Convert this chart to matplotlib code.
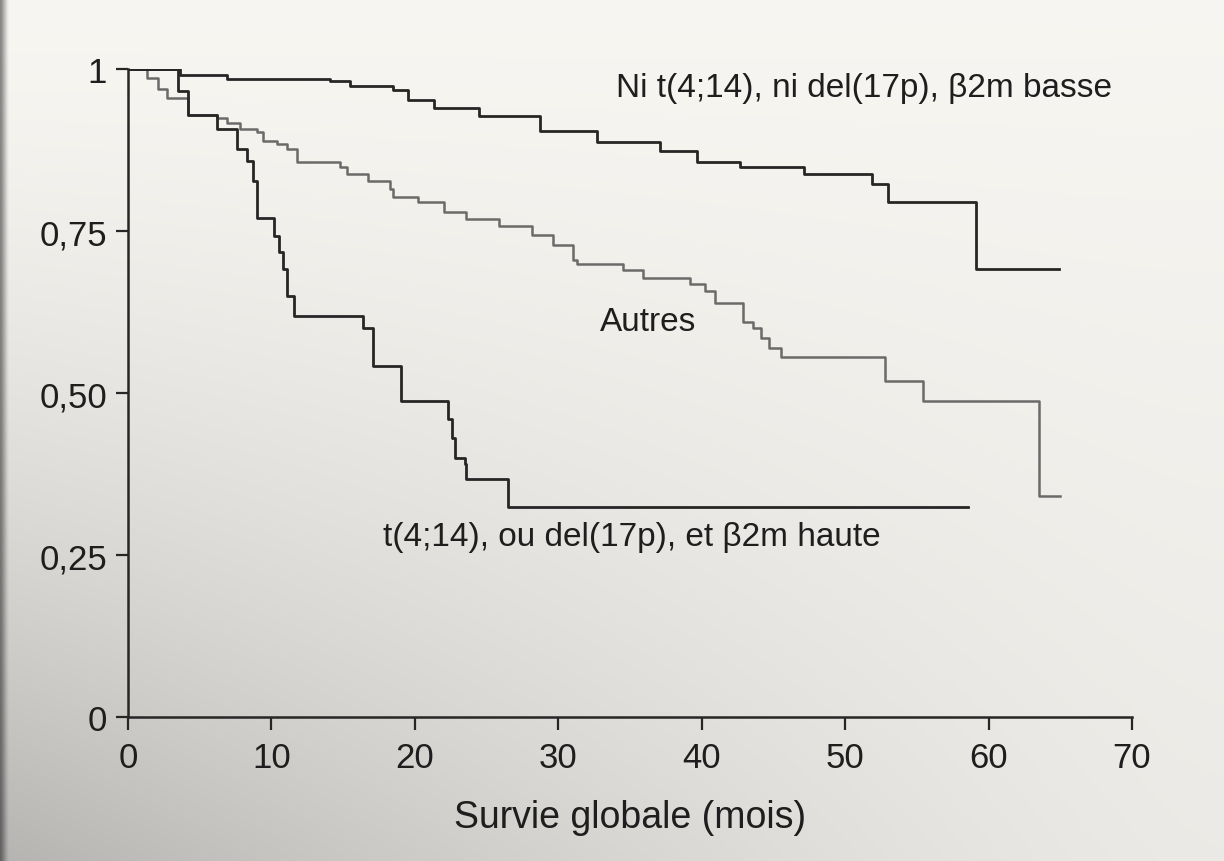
import numpy as np
import matplotlib
matplotlib.use("Agg")
import matplotlib.pyplot as plt

# Kaplan-Meier estimates: event times (months) and survival after each step
basse_t = [0, 3.6, 6.9, 14.1, 15.5, 18.5, 19.5, 21.3, 24.5, 28.7, 32.7, 37.1,
           39.7, 42.7, 47.1, 51.9, 53.0, 59.1, 64.9]
basse_s = [1.0, 0.991, 0.985, 0.982, 0.974, 0.968, 0.952, 0.940, 0.927, 0.904,
           0.887, 0.873, 0.857, 0.849, 0.838, 0.823, 0.795, 0.691, 0.691]

autres_t = [0, 1.3, 2.1, 2.7, 4.2, 6.2, 6.9, 7.8, 9.0, 9.4, 10.4, 11.1, 11.8,
            14.8, 15.3, 16.7, 18.3, 18.5, 20.2, 22.0, 23.6, 25.9, 28.2, 29.6,
            31.0, 31.3, 34.5, 35.9, 39.2, 40.2, 40.9, 42.9, 43.6, 44.1, 44.7,
            45.5, 52.8, 55.4, 63.5, 65.0]
autres_s = [1.0, 0.986, 0.969, 0.956, 0.929, 0.924, 0.916, 0.908, 0.903, 0.889,
            0.884, 0.877, 0.857, 0.848, 0.838, 0.827, 0.815, 0.802, 0.795, 0.780,
            0.769, 0.757, 0.744, 0.729, 0.705, 0.699, 0.690, 0.677, 0.668, 0.658,
            0.639, 0.609, 0.600, 0.585, 0.570, 0.556, 0.519, 0.487, 0.341, 0.341]

haute_t = [0, 3.5, 4.2, 6.2, 7.6, 8.3, 8.7, 9.0, 10.2, 10.5, 10.8, 11.1, 11.6,
           16.4, 17.1, 19.0, 22.3, 22.6, 22.8, 23.5, 23.6, 26.5, 58.6]
haute_s = [1.0, 0.966, 0.929, 0.908, 0.877, 0.858, 0.827, 0.770, 0.743, 0.718,
           0.692, 0.650, 0.619, 0.601, 0.542, 0.488, 0.460, 0.430, 0.400, 0.390,
           0.367, 0.324, 0.324]

x_ticks = [0, 10, 20, 30, 40, 50, 60, 70]
y_ticks = [0, 0.25, 0.50, 0.75, 1]
y_tick_labels = ["0", "0,25", "0,50", "0,75", "1"]

label_basse = "Ni t(4;14), ni del(17p), \u03b22m basse"
label_autres = "Autres"
label_haute = "t(4;14), ou del(17p), et \u03b22m haute"
x_title = "Survie globale (mois)"

plt.rcParams["font.family"] = ["Liberation Sans", "DejaVu Sans"]

W, H = 1224, 862
fig = plt.figure(figsize=(W / 100, H / 100), dpi=100)

# paper background with uneven lighting
bg = fig.add_axes([0, 0, 1, 1], zorder=-10)
u = np.linspace(0, 1, 600)[None, :]
v = np.linspace(0, 1, 430)[:, None]
shade = 247 - 66 * (v ** 1.6) * ((1 - u) ** 1.3) - 12 * v * u
edge = np.clip(1 - u / 0.006, 0, 1)
shade = shade * (1 - 0.45 * edge)
rgb = np.stack([shade, shade * 0.995, shade * 0.965 + 3], axis=-1) / 255.0
rgb = np.clip(rgb, 0, 1)
bg.imshow(rgb, aspect="auto", extent=[0, 1, 0, 1], origin="upper",
          interpolation="bilinear")
bg.set_axis_off()

left = 128 / W
right = 1132 / W
bottom = 1 - 718 / H
top = 1 - 70 / H
ax = fig.add_axes([left, bottom, right - left, top - bottom])
ax.set_facecolor("none")

dark = "#262626"
ax.step(basse_t, basse_s, where="post", color=dark, lw=2.0, zorder=3)
ax.step(autres_t, autres_s, where="post", color="#6a6a6a", lw=1.8, zorder=2)
ax.step(haute_t, haute_s, where="post", color=dark, lw=2.0, zorder=3)

ax.set_xlim(0, 70)
ax.set_ylim(0, 1)
for side in ("top", "right"):
    ax.spines[side].set_visible(False)
for side in ("left", "bottom"):
    ax.spines[side].set_color(dark)
    ax.spines[side].set_linewidth(1.8)

ax.set_xticks(x_ticks)
ax.set_xticklabels([str(t) for t in x_ticks])
ax.set_yticks(y_ticks)
ax.set_yticklabels(y_tick_labels)
ax.tick_params(direction="out", length=9, width=1.6, color=dark,
               labelsize=25, labelcolor="#1e1e1e")
ax.tick_params(axis="y", pad=6)
ax.tick_params(axis="x", pad=8)

ax.set_xlabel(x_title, fontsize=27, color="#1e1e1e", labelpad=18)

txt = dict(fontsize=24, color="#1e1e1e", va="center", ha="left")
ax.text(34.0, 0.972, label_basse, **txt)
ax.text(32.9, 0.611, label_autres, **txt)
ax.text(17.8, 0.278, label_haute, **txt)

fig.savefig("out.png", dpi=100)
